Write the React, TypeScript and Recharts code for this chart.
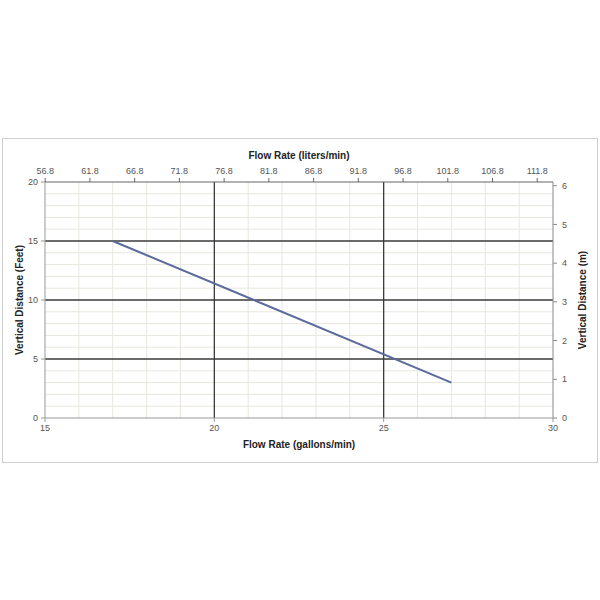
import React from 'react';
import { LineChart, Line, XAxis, YAxis, ReferenceLine, Label } from 'recharts';

const flowGpm = [17, 27];
const distanceFeet = [15, 3];

// unit-axis ranges (15–30 gal/min in L/min, 0–20 ft in m)
const litersRange = [56.78, 113.56];
const metersRange = [0, 6.096];

const bottomTicks = [15, 20, 25, 30];
const topTicks = [56.8, 61.8, 66.8, 71.8, 76.8, 81.8, 86.8, 91.8, 96.8, 101.8, 106.8, 111.8];
const leftTicks = [0, 5, 10, 15, 20];
const rightTicks = [0, 1, 2, 3, 4, 5, 6];

const minorX = [16, 17, 18, 19, 21, 22, 23, 24, 26, 27, 28, 29];
const majorX = [20, 25];
const minorY = [1, 2, 3, 4, 6, 7, 8, 9, 11, 12, 13, 14, 16, 17, 18, 19];
const majorY = [5, 10, 15];

const data = flowGpm.map((g, i) => ({ gpm: g, ft: distanceFeet[i] }));
const unitData = litersRange.map((l, i) => ({ lpm: l, m: metersRange[i] }));

const font = 'Liberation Sans, Arial, sans-serif';
const tickStyle = { fontSize: 9, fill: '#555', fontFamily: font };
const titleStyle = { fontSize: 10, fontWeight: 'bold' as const, fill: '#222', fontFamily: font };

export default function App() {
  return (
    <div style={{ position: 'absolute', left: 0, top: 0, width: 600, height: 600, background: '#fff' }}>
      <div style={{ position: 'absolute', left: 2, top: 138, width: 594, height: 323, border: '1px solid #d0d0d0' }} />
      <LineChart width={600} height={600} data={data} margin={{ top: 142, right: 0, bottom: 142, left: 0 }}>
        <XAxis xAxisId="bottom" dataKey="gpm" type="number" domain={[15, 30]} ticks={bottomTicks}
          orientation="bottom" height={40} tick={tickStyle} tickSize={4} tickMargin={3}
          stroke="#999" allowDataOverflow>
          <Label value="Flow Rate (gallons/min)" position="insideBottom" offset={10} style={titleStyle} />
        </XAxis>
        <XAxis xAxisId="top" dataKey="lpm" type="number" domain={[litersRange[0], litersRange[1]]} ticks={topTicks}
          orientation="top" height={40} tick={tickStyle} tickSize={4} tickMargin={4}
          stroke="#666" allowDataOverflow>
          <Label value="Flow Rate (liters/min)" position="insideTop" offset={10} style={titleStyle} />
        </XAxis>
        <YAxis yAxisId="left" type="number" domain={[0, 20]} ticks={leftTicks}
          orientation="left" width={45} tick={tickStyle} tickSize={4} tickMargin={3}
          stroke="#999" allowDataOverflow>
          <Label value="Vertical Distance (Feet)" angle={-90} position="insideLeft" offset={19}
            style={{ ...titleStyle, textAnchor: 'middle' }} />
        </YAxis>
        <YAxis yAxisId="right" dataKey="m" type="number" domain={[metersRange[0], metersRange[1]]} ticks={rightTicks}
          orientation="right" width={47} tick={tickStyle} tickSize={4} tickMargin={5}
          stroke="#888" allowDataOverflow>
          <Label value="Vertical Distance (m)" angle={-90} position="insideRight" offset={18}
            style={{ ...titleStyle, textAnchor: 'middle' }} />
        </YAxis>
        {minorX.map((v) => (
          <ReferenceLine key={'mx' + v} xAxisId="bottom" yAxisId="left" x={v} stroke="#e8e6df" strokeWidth={1} />
        ))}
        {minorY.map((v) => (
          <ReferenceLine key={'my' + v} xAxisId="bottom" yAxisId="left" y={v} stroke="#e8e6df" strokeWidth={1} />
        ))}
        {majorX.map((v) => (
          <ReferenceLine key={'MX' + v} xAxisId="bottom" yAxisId="left" x={v} stroke="#3a3a3a" strokeWidth={1.3} />
        ))}
        {majorY.map((v) => (
          <ReferenceLine key={'MY' + v} xAxisId="bottom" yAxisId="left" y={v} stroke="#3a3a3a" strokeWidth={1.3} />
        ))}
        <Line xAxisId="top" yAxisId="right" data={unitData} dataKey="m" type="linear" stroke="none"
          dot={false} activeDot={false} isAnimationActive={false} />
        <Line xAxisId="bottom" yAxisId="left" dataKey="ft" type="linear" stroke="#5a6a9c" strokeWidth={2}
          dot={false} activeDot={false} isAnimationActive={false} />
      </LineChart>
    </div>
  );
}
